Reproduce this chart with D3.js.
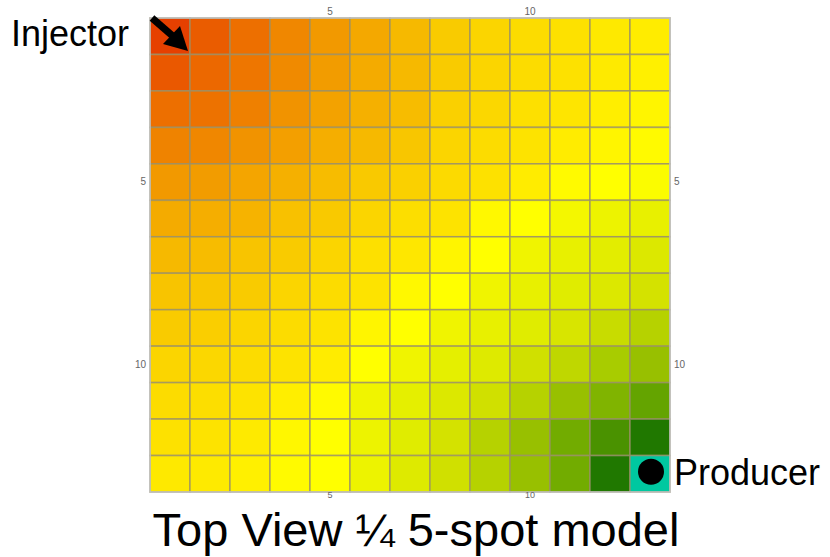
<!DOCTYPE html>
<html>
<head>
<meta charset="utf-8">
<script src="https://cdn.jsdelivr.net/npm/d3@7"></script>
<style>
  body { margin: 0; background: #fff; }
  svg { display: block; font-family: "Liberation Sans", Arial, sans-serif; }
</style>
</head>
<body>
<script>
// grid categories (1-based cell indices)
let cols = [1, 2, 3, 4, 5, 6, 7, 8, 9, 10, 11, 12, 13]
let rows = [1, 2, 3, 4, 5, 6, 7, 8, 9, 10, 11, 12, 13]
let tickLabels = [5, 10]

// pressure-ish index per cell, 0 = injector .. 100 = producer, 101 = well cell
let cellValues = [
  [0, 7, 12, 19, 25, 30, 36, 43, 47, 50, 53, 57, 59],
  [6, 10, 14, 20, 26, 31, 36, 43, 47, 50, 53, 58, 61],
  [12, 13, 17, 23, 28, 33, 37, 45, 48, 52, 55, 60, 64],
  [18, 19, 23, 27, 32, 36, 41, 47, 50, 54, 59, 64, 67],
  [25, 26, 29, 33, 37, 42, 45, 49, 53, 59, 67, 70, 71],
  [31, 32, 34, 39, 42, 47, 51, 54, 66, 70, 73, 75, 77],
  [36, 37, 40, 43, 47, 52, 56, 64, 70, 74, 77, 79, 82],
  [40, 41, 43, 47, 50, 54, 66, 70, 74, 77, 80, 82, 84],
  [43, 44, 47, 50, 54, 64, 70, 74, 77, 80, 83, 87, 89],
  [47, 48, 50, 54, 59, 70, 74, 78, 81, 85, 88, 91, 92],
  [50, 51, 54, 60, 67, 74, 78, 82, 85, 89, 92, 94, 96],
  [53, 54, 58, 65, 70, 75, 80, 84, 89, 92, 95, 98, 100],
  [57, 58, 61, 67, 70, 75, 81, 85, 89, 92, 95, 100, 101]
]

// colour ramp
let stopValues = [0, 10, 20, 30, 40, 50, 60, 70, 74, 77, 80, 82, 84, 87, 89, 91, 92, 94, 96, 98, 100, 101]
let stopColors = ["#e64000", "#ec6800", "#f08a00", "#f4a800", "#f8c400", "#fcdc00", "#ffee00", "#ffff00",
  "#f0f400", "#e8f000", "#e0ec00", "#dce800", "#d4e200", "#c8dc00", "#b6d200", "#a8cc00", "#98c000",
  "#80b400", "#64a400", "#4a9200", "#207800", "#00c8a0"]

let width = 830
let height = 557

let svg = d3.select("body").append("svg")
  .attr("width", width)
  .attr("height", height)

let x = d3.scaleBand().domain(cols).range([150, 670])
let y = d3.scaleBand().domain(rows).range([18, 492])
let color = d3.scaleLinear().domain(stopValues).range(stopColors).clamp(true)

let cells = []
cellValues.forEach((row, r) => {
  row.forEach((v, c) => cells.push({ row: rows[r], col: cols[c], value: v }))
})

// cells
svg.append("g")
  .selectAll("rect")
  .data(cells)
  .enter()
  .append("rect")
  .attr("x", d => x(d.col))
  .attr("y", d => y(d.row))
  .attr("width", x.bandwidth())
  .attr("height", y.bandwidth())
  .attr("fill", d => color(d.value))
  .attr("stroke", "#9a9068")
  .attr("stroke-opacity", 0.75)
  .attr("stroke-width", 1.6)

// outer frame
svg.append("rect")
  .attr("x", 150)
  .attr("y", 18)
  .attr("width", 520)
  .attr("height", 474)
  .attr("fill", "none")
  .attr("stroke", "#c4c4c4")
  .attr("stroke-width", 1.5)

// axes on all four sides
let styleAxis = g => {
  g.select(".domain").remove()
  g.selectAll("text").attr("fill", "#666").style("font-size", "10px")
}
svg.append("g").attr("transform", "translate(0,18)")
  .call(d3.axisTop(x).tickValues(tickLabels).tickSize(0).tickPadding(3)).call(styleAxis)
svg.append("g").attr("transform", "translate(0,492)")
  .call(d3.axisBottom(x).tickValues(tickLabels).tickSize(0).tickPadding(0)).call(styleAxis)
  .selectAll("text").style("font-size", "9px")
svg.append("g").attr("transform", "translate(150,0)")
  .call(d3.axisLeft(y).tickValues(tickLabels).tickSize(0).tickPadding(4)).call(styleAxis)
svg.append("g").attr("transform", "translate(670,0)")
  .call(d3.axisRight(y).tickValues(tickLabels).tickSize(0).tickPadding(4)).call(styleAxis)

// injector arrow
svg.append("line")
  .attr("x1", 152).attr("y1", 18)
  .attr("x2", 175).attr("y2", 38)
  .attr("stroke", "#000")
  .attr("stroke-width", 7)
svg.append("path")
  .attr("d", "M188,51 L163,44 L180,26 Z")
  .attr("fill", "#000")

svg.append("text")
  .attr("x", 11)
  .attr("y", 46)
  .style("font-size", "36px")
  .text("Injector")

// producer well
svg.append("circle")
  .attr("cx", x(13) + x.bandwidth() / 2 + 1)
  .attr("cy", y(13) + y.bandwidth() / 2 - 2)
  .attr("r", 13)
  .attr("fill", "#000")

svg.append("text")
  .attr("x", 674)
  .attr("y", 485)
  .style("font-size", "36px")
  .text("Producer")

svg.append("text")
  .attr("x", 416)
  .attr("y", 546)
  .attr("text-anchor", "middle")
  .style("font-size", "47px")
  .text("Top View ¼ 5-spot model")
</script>
</body>
</html>
